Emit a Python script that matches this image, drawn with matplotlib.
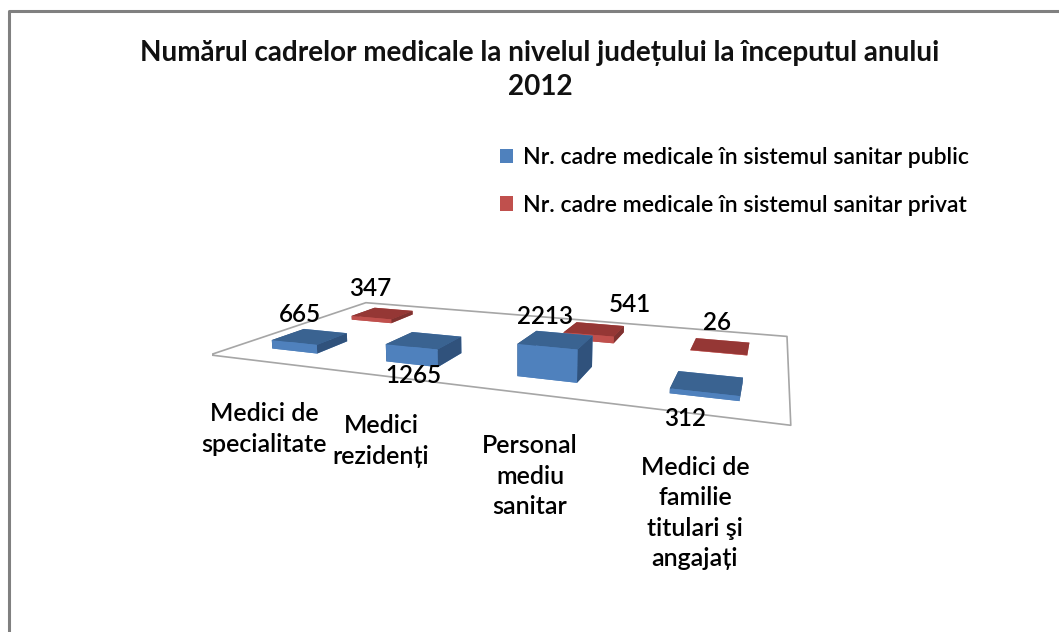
import numpy as np
import matplotlib
matplotlib.use('Agg')
import matplotlib.pyplot as plt
from matplotlib.lines import Line2D
from matplotlib.patches import Patch

W, H = 1059, 632

categories = ['Medici de\nspecialitate', 'Medici\nrezidenți', 'Personal\nmediu\nsanitar',
              'Medici de\nfamilie\ntitulari şi\nangajați']
public = [665, 1265, 2213, 312]
private = [347, 0, 541, 26]
series_names = ['Nr. cadre medicale în sistemul sanitar public',
                'Nr. cadre medicale în sistemul sanitar privat']
title = 'Numărul cadrelor medicale la nivelul județului la începutul anului\n2012'

# face colours: bottom, top, front, back, left, right
blue_faces = ['#4F81BD', '#3A6391', '#4F81BD', '#4F81BD', '#30527C', '#30527C']
red_faces = ['#C0504D', '#953735', '#C0504D', '#C0504D', '#7E3230', '#7E3230']

plt.rcParams['font.family'] = ['Lato', 'DejaVu Sans']

fig = plt.figure(figsize=(W/100, H/100), dpi=100)


def px(x, y):
    # pixel position in the picture to figure fraction
    return x/W, 1-y/H


# the camera was found by fitting the floor corners
side = 585.7
ax = fig.add_axes([212.4/W, 49.3/H, side/W, side/H], projection='3d', computed_zorder=False)
ax.view_init(9.584, -69.356)
ax.set_proj_type('persp', focal_length=0.2203)
ax.set_box_aspect((1, 0.5268, 0.25))
ax.set_xlim(0, 4)
ax.set_ylim(0, 2)
ax.set_zlim(0, 10000)
ax.set_axis_off()
ax.patch.set_alpha(0)

ax.plot([0, 4, 4, 0, 0], [0, 0, 2, 2, 0], [0, 0, 0, 0, 0], color='#A6A6A6', lw=1.2, zorder=1)

bar_w = 0.41
bar_d = 0.37
# back row first, then the front one over it
for i in range(4):
    if private[i] > 0:
        ax.bar3d(i+0.515-bar_w/2, 1.5-bar_d/2, 0, bar_w, bar_d, private[i], color=red_faces,
                 shade=False, zorder=2)
for i in range(4):
    ax.bar3d(i+0.515-bar_w/2, 0.48-bar_d/2, 0, bar_w, bar_d, public[i], color=blue_faces,
             shade=False, zorder=3)

# data labels
label_font = dict(ha='center', va='center', color='black', fontweight='semibold')
public_label_xy = [(300, 314), (413, 375), (545, 316), (685, 418)]
private_label_xy = [(370, 288), None, (630, 304), (717, 323)]
for v, xy in zip(public, public_label_xy):
    fig.text(*px(*xy), str(v), fontsize=17.5, **label_font)
for v, xy in zip(private, private_label_xy):
    if xy is not None:
        fig.text(*px(*xy), str(v), fontsize=17.5, **label_font)

# category labels
cat_xy = [(264, 429), (381, 441), (530, 476), (695, 513)]
for c, xy in zip(categories, cat_xy):
    fig.text(*px(*xy), c, fontsize=18, linespacing=1.4, **label_font)

fig.text(*px(540, 70), title, ha='center', va='center', fontsize=20.05, linespacing=1.4,
         fontweight='bold', color='#111111')

handles = [Patch(facecolor='#4F81BD', label=series_names[0]),
           Patch(facecolor='#C0504D', label=series_names[1])]
fig.legend(handles=handles, loc='upper left', bbox_to_anchor=px(500, 147), frameon=False,
           prop={'size': 16.6, 'weight': 'semibold'}, labelspacing=1.15, handlelength=0.58,
           handleheight=0.58, handletextpad=0.4, borderpad=0, borderaxespad=0)

# chart frame, cut off by the screenshot on the right and bottom
fig.add_artist(Line2D([9/W, 9/W, 1], [0, 1-11/H, 1-11/H], color='#808080', lw=2.2,
                      transform=fig.transFigure))

fig.savefig('out.png', dpi=100)
